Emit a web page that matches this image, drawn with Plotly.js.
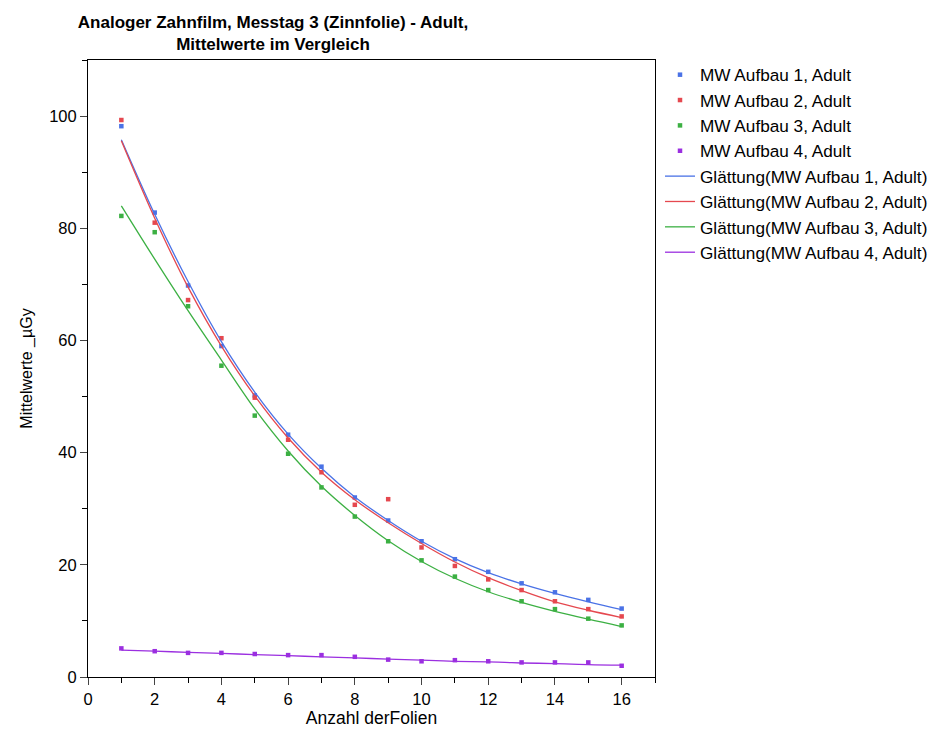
<!DOCTYPE html>
<html><head><meta charset="utf-8">
<script src="https://cdn.plot.ly/plotly-3.0.1.min.js"></script>
<style>body{margin:0;background:#fff}#c{width:936px;height:729px}</style>
</head><body><div id="c"></div>
<script>
const folien = [1,2,3,4,5,6,7,8,9,10,11,12,13,14,15,16];
const mw1 = [98.2,82.8,69.8,59.0,50.2,43.2,37.5,32.0,27.9,24.2,21.0,18.75,16.7,15.1,13.75,12.2];
const mw2 = [99.3,81.0,67.2,60.4,49.8,42.3,36.5,30.7,31.7,23.1,19.8,17.4,15.5,13.5,12.1,10.8];
const mw3 = [82.2,79.3,66.1,55.5,46.6,39.8,33.8,28.6,24.2,20.8,17.9,15.5,13.5,12.1,10.4,9.2];
const mw4 = [5.1,4.6,4.3,4.3,4.1,3.9,3.9,3.6,3.1,2.8,3.0,2.8,2.6,2.6,2.6,2.0];
const gl1 = [95.8,82.5,70.5,59.8,50.8,43.3,37.2,32.1,27.9,24.2,21.1,18.6,16.6,14.9,13.4,12.0];
const gl2 = [95.6,81.8,69.5,59.0,50.1,42.6,36.5,31.6,27.5,23.8,20.5,17.7,15.4,13.4,11.9,10.6];
const gl3 = [84.0,74.5,65.3,56.5,47.8,40.3,34.0,28.8,24.3,20.6,17.6,15.2,13.3,11.7,10.3,9.0];
const gl4 = [4.8,4.6,4.4,4.2,4.0,3.8,3.6,3.4,3.2,3.0,2.8,2.7,2.5,2.4,2.2,2.1];
const names = ["MW Aufbau 1, Adult","MW Aufbau 2, Adult","MW Aufbau 3, Adult","MW Aufbau 4, Adult"];
const colors = ["#4a72e6","#e5484f","#3cb043","#9b2fe0"];
const pts = [mw1,mw2,mw3,mw4];
const gls = [gl1,gl2,gl3,gl4];
const traces = [];
pts.forEach((v,i)=>traces.push({x:folien,y:v,mode:'markers',type:'scatter',name:names[i],
  marker:{color:colors[i],size:4.5,symbol:'square'}}));
gls.forEach((v,i)=>traces.push({x:folien,y:v,mode:'lines',type:'scatter',name:'Glättung('+names[i]+')',
  line:{color:colors[i],width:1.3,shape:'spline'}}));
const F = 'Liberation Sans, Arial, sans-serif';
const layout = {
  width:936,height:729,paper_bgcolor:'#fff',plot_bgcolor:'#fff',
  margin:{l:88,r:281,t:60,b:52},
  font:{family:F,color:'#000'},
  title:{text:'<b>Analoger Zahnfilm, Messtag 3 (Zinnfolie) - Adult,<br>Mittelwerte im Vergleich</b>',
    font:{size:17,family:F,color:'#000'},x:273/936,xref:'container',xanchor:'center',y:1-28/729,yanchor:'top',yref:'container'},
  xaxis:{range:[0,17],dtick:2,tick0:0,ticks:'outside',ticklen:7,showgrid:false,zeroline:false,
    showline:true,mirror:true,linecolor:'#000',linewidth:1,tickfont:{size:16.5},
    minor:{ticks:'outside',dtick:1,ticklen:5,tickcolor:'#000'},
    title:{text:'Anzahl derFolien',font:{size:17.5},standoff:2}},
  yaxis:{range:[0,110],dtick:20,tick0:0,ticks:'outside',ticklen:7,showgrid:false,zeroline:false,
    showline:true,mirror:true,linecolor:'#000',linewidth:1,tickfont:{size:16.5},
    minor:{ticks:'outside',dtick:10,ticklen:5,tickcolor:'#000'},
    title:{text:'Mittelwerte _µGy',font:{size:16},standoff:12}},
  legend:{x:660/936,xref:'container',xanchor:'left',y:1-57/729,yref:'container',yanchor:'top',
    font:{size:17.2},bgcolor:'rgba(0,0,0,0)',tracegroupgap:0}
};
Plotly.newPlot('c',traces,layout,{displayModeBar:false});
</script></body></html>
